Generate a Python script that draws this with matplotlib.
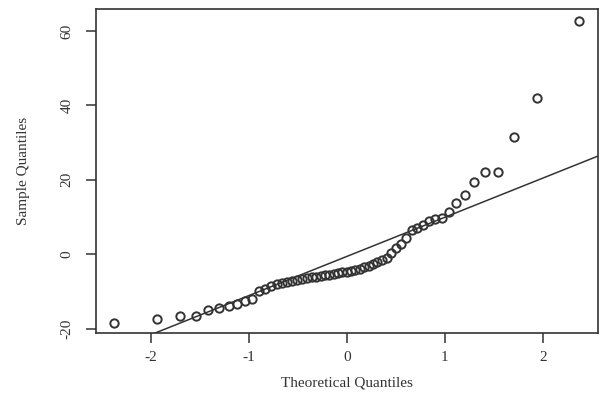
import matplotlib
matplotlib.use("Agg")
import matplotlib.pyplot as plt
import numpy as np
from statistics import NormalDist

# sample values, sorted
sample = [-18.4, -17.3, -16.6, -16.6, -14.9, -14.4, -14.0, -13.5, -12.7, -12.0,
          -10.0, -9.3, -8.6, -8.1, -7.7, -7.4, -7.1, -6.8, -6.6, -6.4,
          -6.2, -6.0, -5.9, -5.7, -5.5, -5.3, -5.1, -4.9, -4.8, -4.5,
          -4.2, -3.9, -3.5, -3.1, -2.6, -2.0, -1.5, -1.0, 0.3, 1.6,
          2.8, 4.3, 6.5, 7.0, 7.8, 8.9, 9.5, 9.8, 11.3, 13.9,
          16.0, 19.5, 22.1, 22.2, 31.5, 42.1, 62.7]
x_ticks = [-2, -1, 0, 1, 2]
y_ticks = [-20, 0, 20, 40, 60]

plt.rcParams['font.family'] = ['Liberation Serif', 'DejaVu Serif']

def ppoints(n):
    a = 3 / 8 if n <= 10 else 0.5
    return [(i + 1 - a) / (n + 1 - 2 * a) for i in range(n)]

def qqline_params(y):
    # same as R qqline: through the first and third quartiles
    q1, q3 = np.percentile(y, [25, 75])
    nd = NormalDist()
    t1, t3 = nd.inv_cdf(0.25), nd.inv_cdf(0.75)
    slope = (q3 - q1) / (t3 - t1)
    return q1 - slope * t1, slope

y = np.sort(np.array(sample))
nd = NormalDist()
theo = np.array([nd.inv_cdf(p) for p in ppoints(len(y))])

fig = plt.figure(figsize=(6, 3.96), dpi=100)
ax = fig.add_axes([0.16, 0.158, 0.836, 0.819])

ink = '#333333'
ax.plot(theo, y, 'o', ms=6, mfc='none', mec=ink, mew=1.4)

b0, b1 = qqline_params(y)
xl = np.array([-3, 3])
ax.plot(xl, b0 + b1 * xl, color=ink, lw=1.1)

ax.set_xlim(-2.56, 2.56)
ax.set_ylim(-21.3, 65.9)
ax.set_xticks(x_ticks)
ax.set_yticks(y_ticks)
ax.set_xticklabels([str(v) for v in x_ticks])
ax.set_yticklabels([str(v) for v in y_ticks], rotation=90, va='center')
ax.tick_params(direction='out', length=7, width=1.1, colors=ink, labelsize=11, pad=6)
ax.tick_params(axis='y', pad=9)
for s in ax.spines.values():
    s.set_color(ink)
    s.set_linewidth(1.2)

ax.set_xlabel('Theoretical Quantiles', fontsize=11, color=ink, labelpad=9)
ax.set_ylabel('Sample Quantiles', fontsize=11, color=ink, labelpad=22)

fig.savefig('out.png', dpi=100)
